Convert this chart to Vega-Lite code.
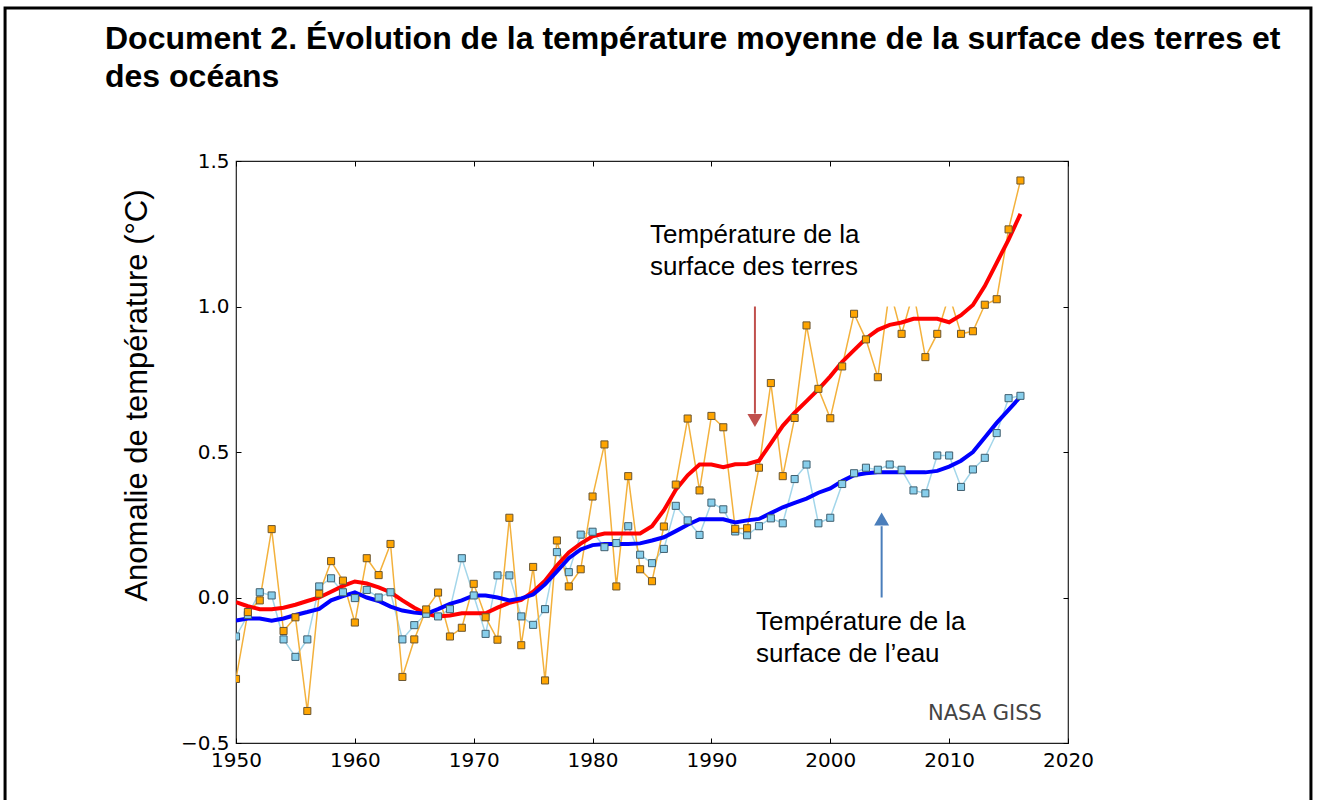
{
  "$schema": "https://vega.github.io/schema/vega-lite/v6.json",
  "width": 832,
  "height": 582,
  "autosize": {"type": "none"},
  "padding": {"left": 236, "top": 161, "right": 249, "bottom": 57},
  "background": "white",
  "title": {
    "text": ["Document 2. Évolution de la température moyenne de la surface des terres et", "des océans"],
    "anchor": "start",
    "frame": "group",
    "dx": -131,
    "offset": -88,
    "baseline": "top",
    "font": "Liberation Sans",
    "fontSize": 32,
    "fontWeight": "bold",
    "color": "#000",
    "lineHeight": 38
  },
  "config": {
    "view": {"stroke": "#222", "strokeWidth": 1.2}
  },
  "datasets": {
    "temp": [
      {"year": 1950, "terres": -0.28, "eau": -0.134, "terres_lisse": -0.016, "eau_lisse": -0.079},
      {"year": 1951, "terres": -0.05, "eau": -0.06, "terres_lisse": -0.03, "eau_lisse": -0.072},
      {"year": 1952, "terres": -0.01, "eau": 0.018, "terres_lisse": -0.04, "eau_lisse": -0.072},
      {"year": 1953, "terres": 0.235, "eau": 0.007, "terres_lisse": -0.04, "eau_lisse": -0.08},
      {"year": 1954, "terres": -0.115, "eau": -0.144, "terres_lisse": -0.035, "eau_lisse": -0.072},
      {"year": 1955, "terres": -0.068, "eau": -0.204, "terres_lisse": -0.025, "eau_lisse": -0.06},
      {"year": 1956, "terres": -0.39, "eau": -0.144, "terres_lisse": -0.012, "eau_lisse": -0.05},
      {"year": 1957, "terres": 0.013, "eau": 0.038, "terres_lisse": 0.0, "eau_lisse": -0.039},
      {"year": 1958, "terres": 0.125, "eau": 0.066, "terres_lisse": 0.02, "eau_lisse": -0.01},
      {"year": 1959, "terres": 0.058, "eau": 0.018, "terres_lisse": 0.04, "eau_lisse": 0.005},
      {"year": 1960, "terres": -0.086, "eau": -0.002, "terres_lisse": 0.055, "eau_lisse": 0.018},
      {"year": 1961, "terres": 0.135, "eau": 0.026, "terres_lisse": 0.048, "eau_lisse": 0.0},
      {"year": 1962, "terres": 0.077, "eau": 0.0, "terres_lisse": 0.035, "eau_lisse": -0.012},
      {"year": 1963, "terres": 0.184, "eau": 0.018, "terres_lisse": 0.018, "eau_lisse": -0.031},
      {"year": 1964, "terres": -0.273, "eau": -0.144, "terres_lisse": -0.01, "eau_lisse": -0.045},
      {"year": 1965, "terres": -0.144, "eau": -0.095, "terres_lisse": -0.035, "eau_lisse": -0.052},
      {"year": 1966, "terres": -0.041, "eau": -0.056, "terres_lisse": -0.056, "eau_lisse": -0.056},
      {"year": 1967, "terres": 0.017, "eau": -0.065, "terres_lisse": -0.065, "eau_lisse": -0.04},
      {"year": 1968, "terres": -0.134, "eau": -0.04, "terres_lisse": -0.062, "eau_lisse": -0.022},
      {"year": 1969, "terres": -0.104, "eau": 0.135, "terres_lisse": -0.054, "eau_lisse": -0.01},
      {"year": 1970, "terres": 0.047, "eau": 0.007, "terres_lisse": -0.054, "eau_lisse": 0.007},
      {"year": 1971, "terres": -0.068, "eau": -0.125, "terres_lisse": -0.054, "eau_lisse": 0.007},
      {"year": 1972, "terres": -0.145, "eau": 0.076, "terres_lisse": -0.035, "eau_lisse": 0.0},
      {"year": 1973, "terres": 0.274, "eau": 0.076, "terres_lisse": -0.018, "eau_lisse": -0.01},
      {"year": 1974, "terres": -0.164, "eau": -0.065, "terres_lisse": -0.008, "eau_lisse": -0.003},
      {"year": 1975, "terres": 0.105, "eau": -0.094, "terres_lisse": 0.02, "eau_lisse": 0.01},
      {"year": 1976, "terres": -0.285, "eau": -0.04, "terres_lisse": 0.058, "eau_lisse": 0.045},
      {"year": 1977, "terres": 0.196, "eau": 0.156, "terres_lisse": 0.11, "eau_lisse": 0.09},
      {"year": 1978, "terres": 0.038, "eau": 0.087, "terres_lisse": 0.155, "eau_lisse": 0.135},
      {"year": 1979, "terres": 0.097, "eau": 0.216, "terres_lisse": 0.185, "eau_lisse": 0.165},
      {"year": 1980, "terres": 0.347, "eau": 0.226, "terres_lisse": 0.21, "eau_lisse": 0.18},
      {"year": 1981, "terres": 0.526, "eau": 0.173, "terres_lisse": 0.22, "eau_lisse": 0.184},
      {"year": 1982, "terres": 0.038, "eau": 0.187, "terres_lisse": 0.22, "eau_lisse": 0.184},
      {"year": 1983, "terres": 0.417, "eau": 0.245, "terres_lisse": 0.22, "eau_lisse": 0.184},
      {"year": 1984, "terres": 0.097, "eau": 0.147, "terres_lisse": 0.22, "eau_lisse": 0.186},
      {"year": 1985, "terres": 0.056, "eau": 0.118, "terres_lisse": 0.245, "eau_lisse": 0.196},
      {"year": 1986, "terres": 0.244, "eau": 0.167, "terres_lisse": 0.3, "eau_lisse": 0.207},
      {"year": 1987, "terres": 0.388, "eau": 0.315, "terres_lisse": 0.37, "eau_lisse": 0.228},
      {"year": 1988, "terres": 0.615, "eau": 0.265, "terres_lisse": 0.42, "eau_lisse": 0.25},
      {"year": 1989, "terres": 0.368, "eau": 0.215, "terres_lisse": 0.457, "eau_lisse": 0.269},
      {"year": 1990, "terres": 0.624, "eau": 0.326, "terres_lisse": 0.457, "eau_lisse": 0.269},
      {"year": 1991, "terres": 0.585, "eau": 0.303, "terres_lisse": 0.448, "eau_lisse": 0.269},
      {"year": 1992, "terres": 0.236, "eau": 0.227, "terres_lisse": 0.458, "eau_lisse": 0.258},
      {"year": 1993, "terres": 0.238, "eau": 0.214, "terres_lisse": 0.459, "eau_lisse": 0.265},
      {"year": 1994, "terres": 0.446, "eau": 0.245, "terres_lisse": 0.47, "eau_lisse": 0.27},
      {"year": 1995, "terres": 0.737, "eau": 0.272, "terres_lisse": 0.53, "eau_lisse": 0.29},
      {"year": 1996, "terres": 0.417, "eau": 0.255, "terres_lisse": 0.59, "eau_lisse": 0.31},
      {"year": 1997, "terres": 0.617, "eau": 0.407, "terres_lisse": 0.635, "eau_lisse": 0.325},
      {"year": 1998, "terres": 0.935, "eau": 0.457, "terres_lisse": 0.675, "eau_lisse": 0.34},
      {"year": 1999, "terres": 0.717, "eau": 0.255, "terres_lisse": 0.715, "eau_lisse": 0.36},
      {"year": 2000, "terres": 0.616, "eau": 0.274, "terres_lisse": 0.76, "eau_lisse": 0.375},
      {"year": 2001, "terres": 0.794, "eau": 0.39, "terres_lisse": 0.81, "eau_lisse": 0.4},
      {"year": 2002, "terres": 0.975, "eau": 0.427, "terres_lisse": 0.85, "eau_lisse": 0.42},
      {"year": 2003, "terres": 0.887, "eau": 0.446, "terres_lisse": 0.89, "eau_lisse": 0.427},
      {"year": 2004, "terres": 0.757, "eau": 0.439, "terres_lisse": 0.92, "eau_lisse": 0.43},
      {"year": 2005, "terres": 1.06, "eau": 0.457, "terres_lisse": 0.937, "eau_lisse": 0.43},
      {"year": 2006, "terres": 0.906, "eau": 0.439, "terres_lisse": 0.945, "eau_lisse": 0.43},
      {"year": 2007, "terres": 1.05, "eau": 0.368, "terres_lisse": 0.958, "eau_lisse": 0.43},
      {"year": 2008, "terres": 0.826, "eau": 0.358, "terres_lisse": 0.958, "eau_lisse": 0.43},
      {"year": 2009, "terres": 0.906, "eau": 0.488, "terres_lisse": 0.958, "eau_lisse": 0.435},
      {"year": 2010, "terres": 1.04, "eau": 0.488, "terres_lisse": 0.946, "eau_lisse": 0.45},
      {"year": 2011, "terres": 0.906, "eau": 0.38, "terres_lisse": 0.97, "eau_lisse": 0.47},
      {"year": 2012, "terres": 0.915, "eau": 0.44, "terres_lisse": 1.005, "eau_lisse": 0.5},
      {"year": 2013, "terres": 1.006, "eau": 0.48, "terres_lisse": 1.07, "eau_lisse": 0.55},
      {"year": 2014, "terres": 1.025, "eau": 0.565, "terres_lisse": 1.15, "eau_lisse": 0.6},
      {"year": 2015, "terres": 1.265, "eau": 0.685, "terres_lisse": 1.23, "eau_lisse": 0.645},
      {"year": 2016, "terres": 1.433, "eau": 0.693, "terres_lisse": 1.318, "eau_lisse": 0.69}
    ],
    "cadre": [
      {"x0": 1930.57, "x1": 2040.44, "y0": 2.026, "y1": -0.8}
    ],
    "masque": [
      {"x0": 1985, "x1": 2010.9, "y0": 1.0, "y1": 1.3}
    ],
    "fleches": [
      {"serie": "terres", "x": 1993.66, "y0": 1.0, "y1": 0.632, "tete": 0.608, "forme": "triangle-down"},
      {"serie": "eau", "x": 2004.32, "y0": 0.0, "y1": 0.245, "tete": 0.27, "forme": "triangle-up"}
    ],
    "etiquettes": [
      {"x": 1984.83, "y": 1.218, "texte": "Température de la\nsurface des terres"},
      {"x": 1993.75, "y": -0.112, "texte": "Température de la\nsurface de l’eau"}
    ],
    "source": [
      {"x": 2008.22, "y": -0.421, "texte": "NASA GISS"}
    ]
  },
  "layer": [
    {
      "data": {"name": "temp"},
      "mark": {"type": "line", "color": "#a3d6ea", "strokeWidth": 1.5, "clip": true},
      "encoding": {
        "x": {"field": "year", "type": "quantitative", "scale": {"domain": [1950, 2020], "nice": false, "zero": false},
          "axis": {"orient": "bottom", "values": [1950, 1960, 1970, 1980, 1990, 2000, 2010, 2020], "format": "d", "labelFont": "DejaVu Sans", "labelFontSize": 20, "labelColor": "#000", "tickColor": "#000", "tickSize": -5, "labelPadding": 12, "domain": false, "grid": false, "title": null, "labelFlush": false, "labelOverlap": false}},
        "y": {"field": "eau", "type": "quantitative", "scale": {"domain": [-0.5, 1.5], "nice": false, "zero": false},
          "axis": {"orient": "left", "values": [-0.5, 0, 0.5, 1, 1.5], "format": ".1f", "labelFont": "DejaVu Sans", "labelFontSize": 20, "labelColor": "#000", "tickColor": "#000", "tickSize": -5, "labelPadding": 12, "domain": false, "grid": false, "labelFlush": false, "labelOverlap": false,
            "title": "Anomalie de température (°C)", "titleFont": "Liberation Sans", "titleFontSize": 31, "titleFontWeight": "normal", "titleColor": "#000", "titleX": -99, "titleY": 234, "titleAngle": -90, "titleAlign": "center", "titleBaseline": "middle"}}
      }
    },
    {
      "data": {"name": "temp"},
      "mark": {"type": "line", "color": "#f3b13c", "strokeWidth": 1.5, "clip": true},
      "encoding": {
        "x": {"field": "year", "type": "quantitative", "scale": {"domain": [1950, 2020], "nice": false, "zero": false},
          "axis": {"orient": "top", "values": [1950, 1960, 1970, 1980, 1990, 2000, 2010, 2020], "labels": false, "tickColor": "#000", "tickSize": -5, "domain": false, "grid": false, "title": null}},
        "y": {"field": "terres", "type": "quantitative", "scale": {"domain": [-0.5, 1.5], "nice": false, "zero": false},
          "axis": {"orient": "right", "values": [-0.5, 0, 0.5, 1, 1.5], "labels": false, "tickColor": "#000", "tickSize": -5, "domain": false, "grid": false, "title": null}}
      }
    },
    {
      "data": {"name": "temp"},
      "mark": {"type": "line", "color": "#ff0000", "strokeWidth": 4, "clip": true},
      "encoding": {
        "x": {"field": "year", "type": "quantitative", "scale": {"domain": [1950, 2020], "nice": false, "zero": false}, "axis": null},
        "y": {"field": "terres_lisse", "type": "quantitative", "scale": {"domain": [-0.5, 1.5], "nice": false, "zero": false}, "axis": null}
      }
    },
    {
      "data": {"name": "temp"},
      "mark": {"type": "line", "color": "#0000ff", "strokeWidth": 4, "clip": true},
      "encoding": {
        "x": {"field": "year", "type": "quantitative", "scale": {"domain": [1950, 2020], "nice": false, "zero": false}, "axis": null},
        "y": {"field": "eau_lisse", "type": "quantitative", "scale": {"domain": [-0.5, 1.5], "nice": false, "zero": false}, "axis": null}
      }
    },
    {
      "data": {"name": "temp"},
      "mark": {"type": "point", "shape": "square", "filled": true, "fill": "#87ceeb", "stroke": "#3f5f6f", "strokeWidth": 1, "size": 50, "opacity": 1, "clip": true},
      "encoding": {
        "x": {"field": "year", "type": "quantitative", "scale": {"domain": [1950, 2020], "nice": false, "zero": false}, "axis": null},
        "y": {"field": "eau", "type": "quantitative", "scale": {"domain": [-0.5, 1.5], "nice": false, "zero": false}, "axis": null}
      }
    },
    {
      "data": {"name": "temp"},
      "mark": {"type": "point", "shape": "square", "filled": true, "fill": "#ffa500", "stroke": "#6a5530", "strokeWidth": 1, "size": 50, "opacity": 1, "clip": true},
      "encoding": {
        "x": {"field": "year", "type": "quantitative", "scale": {"domain": [1950, 2020], "nice": false, "zero": false}, "axis": null},
        "y": {"field": "terres", "type": "quantitative", "scale": {"domain": [-0.5, 1.5], "nice": false, "zero": false}, "axis": null}
      }
    },
    {
      "data": {"name": "masque"},
      "mark": {"type": "rect", "fill": "white", "stroke": null, "clip": true},
      "encoding": {
        "x": {"field": "x0", "type": "quantitative", "scale": {"domain": [1950, 2020], "nice": false, "zero": false}, "axis": null},
        "x2": {"field": "x1"},
        "y": {"field": "y0", "type": "quantitative", "scale": {"domain": [-0.5, 1.5], "nice": false, "zero": false}, "axis": null},
        "y2": {"field": "y1"}
      }
    },
    {
      "data": {"name": "fleches"},
      "mark": {"type": "rule", "strokeWidth": 2},
      "encoding": {
        "x": {"field": "x", "type": "quantitative", "scale": {"domain": [1950, 2020], "nice": false, "zero": false}, "axis": null},
        "y": {"field": "y0", "type": "quantitative", "scale": {"domain": [-0.5, 1.5], "nice": false, "zero": false}, "axis": null},
        "y2": {"field": "y1"},
        "color": {"field": "serie", "type": "nominal", "scale": {"domain": ["terres", "eau"], "range": ["#c0504d", "#4a7ebb"]}, "legend": null}
      }
    },
    {
      "data": {"name": "fleches"},
      "mark": {"type": "point", "filled": true, "size": 225, "opacity": 1},
      "encoding": {
        "x": {"field": "x", "type": "quantitative", "scale": {"domain": [1950, 2020], "nice": false, "zero": false}, "axis": null},
        "y": {"field": "tete", "type": "quantitative", "scale": {"domain": [-0.5, 1.5], "nice": false, "zero": false}, "axis": null},
        "shape": {"field": "forme", "type": "nominal", "scale": {"domain": ["triangle-down", "triangle-up"], "range": ["triangle-down", "triangle-up"]}, "legend": null},
        "color": {"field": "serie", "type": "nominal", "scale": {"domain": ["terres", "eau"], "range": ["#c0504d", "#4a7ebb"]}, "legend": null}
      }
    },
    {
      "data": {"name": "etiquettes"},
      "mark": {"type": "text", "font": "Liberation Sans", "fontSize": 26, "lineHeight": 32, "align": "left", "baseline": "alphabetic", "color": "#000", "lineBreak": "\n"},
      "encoding": {
        "x": {"field": "x", "type": "quantitative", "scale": {"domain": [1950, 2020], "nice": false, "zero": false}, "axis": null},
        "y": {"field": "y", "type": "quantitative", "scale": {"domain": [-0.5, 1.5], "nice": false, "zero": false}, "axis": null},
        "text": {"field": "texte", "type": "nominal"}
      }
    },
    {
      "data": {"name": "source"},
      "mark": {"type": "text", "font": "DejaVu Sans", "fontSize": 21, "align": "left", "baseline": "alphabetic", "color": "#444"},
      "encoding": {
        "x": {"field": "x", "type": "quantitative", "scale": {"domain": [1950, 2020], "nice": false, "zero": false}, "axis": null},
        "y": {"field": "y", "type": "quantitative", "scale": {"domain": [-0.5, 1.5], "nice": false, "zero": false}, "axis": null},
        "text": {"field": "texte", "type": "nominal"}
      }
    },
    {
      "data": {"name": "cadre"},
      "mark": {"type": "rect", "filled": false, "stroke": "#000", "strokeWidth": 3, "clip": false},
      "encoding": {
        "x": {"field": "x0", "type": "quantitative", "scale": {"domain": [1950, 2020], "nice": false, "zero": false}, "axis": null},
        "x2": {"field": "x1"},
        "y": {"field": "y0", "type": "quantitative", "scale": {"domain": [-0.5, 1.5], "nice": false, "zero": false}, "axis": null},
        "y2": {"field": "y1"}
      }
    }
  ],
  "resolve": {"axis": {"x": "independent", "y": "independent"}}
}
